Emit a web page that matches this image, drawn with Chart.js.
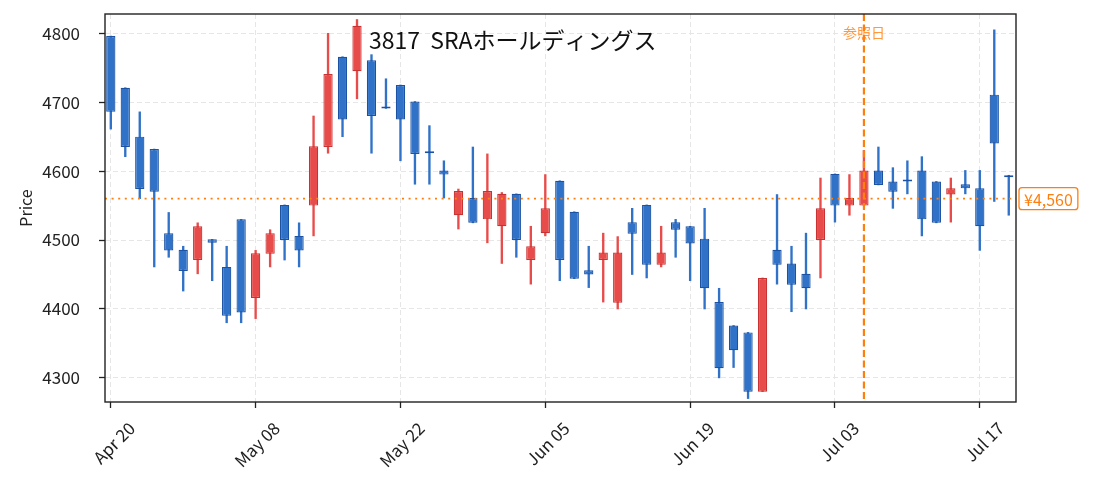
<!DOCTYPE html>
<html>
<head>
<meta charset="utf-8">
<script src="https://cdn.jsdelivr.net/npm/chart.js@4.4.1/dist/chart.umd.min.js"></script>
<style>
  html, body { margin: 0; padding: 0; background: #fff; }
  #wrap { width: 1095px; height: 492px; }
</style>
</head>
<body>
<div id="wrap"><canvas id="chart" width="1095" height="492"></canvas></div>
<script>
// Trading days (Apr 20 - Jul 22)
const dates = [
  'Apr 20', 'Apr 21', 'Apr 22', 'Apr 23', 'Apr 24', 'Apr 27', 'Apr 28', 'Apr 30',
  'May 01', 'May 07', 'May 08', 'May 11', 'May 12', 'May 13', 'May 14', 'May 15',
  'May 18', 'May 19', 'May 20', 'May 21', 'May 22', 'May 25', 'May 26', 'May 27',
  'May 28', 'May 29', 'Jun 01', 'Jun 02', 'Jun 03', 'Jun 04', 'Jun 05', 'Jun 08',
  'Jun 09', 'Jun 10', 'Jun 11', 'Jun 12', 'Jun 15', 'Jun 16', 'Jun 17', 'Jun 18',
  'Jun 19', 'Jun 22', 'Jun 23', 'Jun 24', 'Jun 25', 'Jun 26', 'Jun 29', 'Jun 30',
  'Jul 01', 'Jul 02', 'Jul 03', 'Jul 06', 'Jul 07', 'Jul 08', 'Jul 09', 'Jul 10',
  'Jul 13', 'Jul 14', 'Jul 15', 'Jul 16', 'Jul 17', 'Jul 21', 'Jul 22'
];

const openP = [
  4796, 4721, 4650, 4632, 4510, 4486, 4471, 4501, 4461, 4530,
  4416, 4480, 4551, 4506, 4550, 4635, 4766, 4745, 4761, 4691,
  4725, 4701, 4626, 4601, 4536, 4561, 4530, 4520, 4567, 4471,
  4510, 4586, 4541, 4456, 4471, 4409, 4526, 4551, 4464, 4526,
  4520, 4502, 4410, 4376, 4366, 4280, 4486, 4466, 4451, 4500,
  4596, 4550, 4550, 4601, 4585, 4585, 4601, 4585, 4566, 4581,
  4575, 4711, 4591
];
const highP = [
  4796, 4721, 4686, 4632, 4540, 4491, 4525, 4501, 4491, 4530,
  4485, 4515, 4551, 4525, 4680, 4800, 4766, 4820, 4769, 4734,
  4725, 4701, 4666, 4615, 4574, 4635, 4625, 4569, 4567, 4520,
  4595, 4586, 4541, 4491, 4510, 4505, 4546, 4551, 4520, 4530,
  4520, 4546, 4430, 4376, 4366, 4445, 4566, 4491, 4510, 4590,
  4596, 4595, 4630, 4635, 4605, 4615, 4621, 4585, 4590, 4601,
  4601, 4805, 4594
];
const lowP = [
  4661, 4621, 4560, 4461, 4475, 4426, 4451, 4441, 4380, 4380,
  4386, 4461, 4471, 4461, 4506, 4626, 4650, 4705, 4626, 4691,
  4615, 4581, 4581, 4561, 4516, 4525, 4496, 4466, 4475, 4436,
  4506, 4441, 4444, 4431, 4410, 4400, 4450, 4445, 4461, 4475,
  4441, 4400, 4300, 4315, 4270, 4280, 4436, 4396, 4400, 4445,
  4526, 4536, 4550, 4580, 4546, 4567, 4506, 4525, 4526, 4567,
  4485, 4556, 4536
];
const closeP = [
  4686, 4635, 4574, 4570, 4485, 4455, 4520, 4496, 4390, 4395,
  4481, 4510, 4500, 4485, 4636, 4741, 4675, 4811, 4680, 4691,
  4675, 4625, 4626, 4595, 4571, 4525, 4571, 4567, 4500, 4491,
  4546, 4471, 4444, 4450, 4482, 4482, 4509, 4464, 4482, 4515,
  4495, 4430, 4314, 4340, 4280, 4445, 4464, 4435, 4430, 4546,
  4550, 4561, 4601, 4580, 4570, 4585, 4530, 4525, 4575, 4575,
  4520, 4640, 4591
];

const xTickIdx = [0, 10, 20, 30, 40, 50, 60];
const yTicks = [4300, 4400, 4500, 4600, 4700, 4800];
const refPrice = 4560;
const refIndex = 52;
const chartTitle = '3817  SRAホールディングス';

const UP = '#e84c4a', UP_EDGE = '#c93232';
const DOWN = '#2f72c8', DOWN_EDGE = '#1c52a3';
const ORANGE = '#ff7f0e';
const isUp = i => closeP[i] > openP[i];

Chart.defaults.font.family = '"Noto Sans CJK JP", "Noto Sans", sans-serif';
Chart.defaults.color = '#222';

const bodies = dates.map((d, i) => ({ x: i, y: [openP[i], closeP[i]] }));
const wicks = dates.map((d, i) => ({ x: i, y: [lowP[i], highP[i]] }));

// lines, labels and frame on top of the candles
const overlay = {
  id: 'overlay',
  afterDatasetsDraw(chart) {
    const { ctx, chartArea: a, scales: { x, y } } = chart;
    ctx.save();
    const yy = y.getPixelForValue(refPrice);
    ctx.strokeStyle = ORANGE;
    ctx.lineWidth = 1.8;
    ctx.setLineDash([2, 4.6]);
    ctx.beginPath();
    ctx.moveTo(a.left, yy);
    ctx.lineTo(a.right, yy);
    ctx.stroke();

    const xx = x.getPixelForValue(refIndex);
    ctx.lineWidth = 2.2;
    ctx.setLineDash([7, 3.5]);
    ctx.beginPath();
    ctx.moveTo(xx, a.top);
    ctx.lineTo(xx, a.bottom);
    ctx.stroke();
    ctx.setLineDash([]);

    // frame
    ctx.strokeStyle = '#222';
    ctx.lineWidth = 1.4;
    ctx.strokeRect(a.left, a.top, a.right - a.left, a.bottom - a.top);

    // title
    ctx.fillStyle = '#111';
    ctx.font = '23px "Noto Sans CJK JP"';
    ctx.textAlign = 'left';
    ctx.textBaseline = 'middle';
    ctx.fillText(chartTitle, 369, 40);

    // reference day label
    ctx.fillStyle = 'rgba(255,127,14,0.8)';
    ctx.font = '14px "Noto Sans CJK JP"';
    ctx.textAlign = 'center';
    ctx.fillText('参照日', xx, 33);

    // price tag
    const label = '¥' + refPrice.toLocaleString('en-US');
    ctx.font = '16px "Noto Sans CJK JP"';
    const w = ctx.measureText(label).width + 10;
    const bx = a.right + 3, bh = 22;
    ctx.fillStyle = '#fff';
    ctx.strokeStyle = ORANGE;
    ctx.lineWidth = 1.3;
    ctx.beginPath();
    ctx.roundRect(bx, yy - bh / 2, w, bh, 3);
    ctx.fill();
    ctx.stroke();
    ctx.fillStyle = ORANGE;
    ctx.textAlign = 'left';
    ctx.fillText(label, bx + 5, yy + 1);
    ctx.restore();
  }
};

new Chart(document.getElementById('chart'), {
  type: 'bar',
  data: {
    datasets: [
      {
        label: 'body',
        data: bodies,
        grouped: false,
        barPercentage: 0.64,
        categoryPercentage: 1.0,
        minBarLength: 2,
        borderWidth: 1.2,
        borderSkipped: false,
        backgroundColor: ctx => isUp(ctx.dataIndex) ? UP : DOWN,
        borderColor: ctx => isUp(ctx.dataIndex) ? UP_EDGE : DOWN_EDGE
      },
      {
        label: 'wick',
        data: wicks,
        grouped: false,
        barThickness: 1.7,
        borderWidth: 0,
        backgroundColor: ctx => isUp(ctx.dataIndex) ? UP : DOWN
      }
    ]
  },
  options: {
    responsive: false,
    animation: false,
    layout: { padding: { top: 14, right: 79, left: 0, bottom: 0 } },
    plugins: { legend: { display: false }, tooltip: { enabled: false } },
    scales: {
      x: {
        type: 'linear',
        offset: false,
        min: -0.4,
        max: 62.5,
        afterBuildTicks: s => { s.ticks = xTickIdx.map(v => ({ value: v })); },
        afterFit: s => { s.height = 90; s.paddingLeft = 0; s.paddingRight = 0; },
        grid: {
          offset: false,
          color: '#e6e6e6',
          lineWidth: 1,
          tickColor: '#222',
          tickLength: 6,
          tickWidth: 1.3,
          tickBorderDash: []
        },
        border: { display: false, dash: [5, 3] },
        ticks: {
          autoSkip: false,
          maxRotation: 45,
          minRotation: 45,
          labelOffset: 21,
          padding: 10,
          font: { size: 17 },
          color: '#222',
          callback: v => dates[v]
        }
      },
      y: {
        min: 4265,
        max: 4828,
        afterBuildTicks: s => { s.ticks = yTicks.map(v => ({ value: v })); },
        afterFit: s => { s.width = 105; s.paddingTop = 0; s.paddingBottom = 0; },
        grid: {
          color: '#e6e6e6',
          lineWidth: 1,
          tickColor: '#222',
          tickLength: 6,
          tickWidth: 1.3,
          tickBorderDash: []
        },
        border: { display: false, dash: [5, 3] },
        ticks: { padding: 19, font: { size: 17 }, color: '#222', callback: v => String(v) },
        title: {
          display: true,
          text: 'Price',
          font: { size: 16 },
          color: '#222',
          padding: { top: 16, bottom: 0 }
        }
      }
    }
  },
  plugins: [overlay]
});
</script>
</body>
</html>
